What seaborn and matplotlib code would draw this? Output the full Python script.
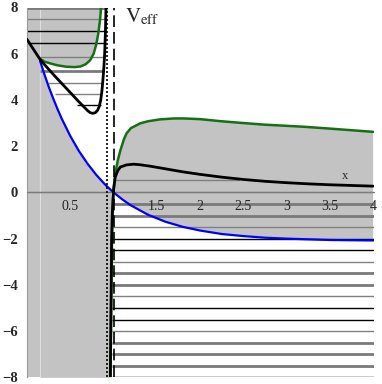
import numpy as np
import pandas as pd
import matplotlib
matplotlib.use("Agg")
import matplotlib.pyplot as plt
import seaborn as sns

# ---------------- data ----------------
blue_x = [0.15, 0.2, 0.25, 0.3, 0.35, 0.4, 0.5, 0.6, 0.7, 0.8, 0.9, 0.95, 0.97, 1.0,
          1.1, 1.2, 1.4, 1.6, 1.8, 2.0, 2.25, 2.5, 2.75, 3.0, 3.5, 4.0]
blue_y = [5.70, 5.12, 4.58, 4.09, 3.63, 3.20, 2.44, 1.79, 1.24, 0.76, 0.35, 0.17, 0.10, 0.00,
          -0.30, -0.56, -0.97, -1.27, -1.49, -1.65, -1.80, -1.89, -1.96, -2.00, -2.06, -2.08]

black_l_x = [0.0, 0.15, 0.2, 0.25, 0.3, 0.35, 0.4, 0.45, 0.5, 0.55, 0.6, 0.65, 0.7, 0.73,
             0.76, 0.79, 0.815, 0.835, 0.852, 0.866, 0.878, 0.889, 0.898, 0.906, 0.914]
black_l_y = [6.62, 5.76, 5.54, 5.33, 5.12, 4.92, 4.72, 4.52, 4.32, 4.12, 3.92, 3.73, 3.54, 3.45,
             3.42, 3.45, 3.55, 3.72, 4.00, 4.40, 4.90, 5.45, 6.05, 6.90, 8.20]

black_r_x = [0.962, 0.968, 0.973, 0.978, 0.985, 0.993, 1.0, 1.01, 1.02, 1.05, 1.08, 1.15,
             1.23, 1.3, 1.43, 1.6, 1.8, 2.0, 2.25, 2.5, 2.75, 3.0, 3.25, 3.5, 3.75, 4.0]
black_r_y = [-8.2, -6.0, -4.0, -2.0, -1.0, -0.3, 0.10, 0.40, 0.67, 0.95, 1.10, 1.19,
             1.22, 1.20, 1.13, 1.02, 0.89, 0.78, 0.66, 0.56, 0.48, 0.42, 0.37, 0.33, 0.30, 0.27]

green_l_x = [0.15, 0.2, 0.27, 0.35, 0.45, 0.55, 0.62, 0.68, 0.73, 0.77, 0.8, 0.825, 0.845, 0.86]
green_l_y = [5.78, 5.66, 5.58, 5.50, 5.44, 5.42, 5.45, 5.55, 5.72, 6.00, 6.40, 6.90, 7.50, 8.20]

green_r_x = [0.965, 0.97, 0.975, 0.98, 0.988, 0.995, 1.0, 1.02, 1.05, 1.08, 1.12, 1.15, 1.2,
             1.31, 1.4, 1.54, 1.7, 1.81, 2.0, 2.24, 2.5, 2.75, 3.0, 3.2, 3.5, 3.75, 4.0]
green_r_y = [-8.2, -6.0, -4.0, -2.5, -1.0, -0.3, 0.10, 0.80, 1.40, 1.83, 2.30, 2.55, 2.78,
             2.99, 3.08, 3.16, 3.20, 3.20, 3.17, 3.08, 3.00, 2.93, 2.88, 2.84, 2.76, 2.69, 2.62]

level_E = [8.0, 7.5, 6.98, 6.46, 5.84, 5.25, 4.72, 4.25, 3.78, 0.55,
           -0.5, -1.0, -1.5, -2.0, -2.5, -3.0, -3.5, -4.0, -4.5, -5.0,
           -5.5, -6.0, -6.5, -7.0, -7.5, -8.0]
level_x0 = [0.0, 0.0, 0.0, 0.0, 0.15, 0.15, 0.24, 0.32, 0.58, 1.01] + [0.98] * 16
level_x1 = [0.92, 0.915, 0.91, 0.905, 0.90, 0.89, 0.88, 0.865, 0.85, 2.45] + [4.01] * 16
level_kind = ["G", "g", "k", "k", "g", "G", "g", "g", "k", "g",
              "G", "G", "g", "k", "k", "g", "G", "G", "g", "k",
              "k", "g", "G", "G", "G", "k"]

xticks = [0.5, 1.5, 2, 2.5, 3, 3.5, 4]
xtick_labels = ["0.5", "1.5", "2", "2.5", "3", "3.5", "4"]
yticks = [-8, -6, -4, -2, 0, 2, 4, 6, 8]
ytick_labels = ["\u22128", "\u22126", "\u22124", "\u22122", "0", "2", "4", "6", "8"]

# ---------------- plotting ----------------
sns.set_style("white")
plt.rcParams["font.family"] = ["Liberation Serif", "DejaVu Serif"]
plt.rcParams["mathtext.fontset"] = "stix"

fig = plt.figure(figsize=(3.82, 3.84), dpi=100)
ax = fig.add_axes([27 / 382, 6.7 / 384, 347 / 382, 369.8 / 384])
ax.set_xlim(0, 4.01)
ax.set_ylim(-8, 8)
ax.set_axisbelow(False)

GREY = "#c3c3c3"
# shaded regions
ax.axvspan(0, 0.15, color=GREY, lw=0, zorder=1)
ax.fill_between(green_l_x, green_l_y, 8, color=GREY, lw=0, zorder=1)
bx = np.array(blue_x)
by = np.array(blue_y)
m = bx <= 0.97
ax.fill_between(bx[m], -8, by[m], color=GREY, lw=0, zorder=1)
gx = np.array(green_r_x)
gy = np.array(green_r_y)
mg = gx >= 1.0
mb = bx >= 1.0
poly_x = np.concatenate([gx[mg], bx[mb][::-1]])
poly_y = np.concatenate([gy[mg], by[mb][::-1]])
ax.fill(poly_x, poly_y, color=GREY, lw=0, zorder=1)

# faint vertical line at the start of the curves
ax.plot([0.15, 0.15], [0, 5.75], color="#dadada", lw=1, zorder=1.5)

# energy levels
style = {"k": ("black", 1.0), "g": ("#808080", 1.0), "G": ("#7a7a7a", 2.0)}
for E, x0, x1, k in zip(level_E, level_x0, level_x1, level_kind):
    c, w = style[k]
    ax.hlines(E, x0, x1, color=c, lw=w, zorder=2)

# x axis line
ax.axhline(0, color="#7a7a7a", lw=1.0, zorder=2)

# curves
df_blue = pd.DataFrame({"x": blue_x, "y": blue_y})
sns.lineplot(data=df_blue, x="x", y="y", sort=False, color="#0000ff", lw=1.6, ax=ax, zorder=4)
for xs, ys in [(green_l_x, green_l_y), (green_r_x, green_r_y)]:
    sns.lineplot(x=xs, y=ys, sort=False, color="#137113", lw=1.8, ax=ax, zorder=4)
for xs, ys in [(black_l_x, black_l_y), (black_r_x, black_r_y)]:
    sns.lineplot(x=xs, y=ys, sort=False, color="black", lw=2.0, ax=ax, zorder=5)

# asymptote markers
ax.axvline(0.928, color="black", lw=1.2, ls=(0, (1.2, 1.2)), zorder=6)
ax.axvline(1.0, color="black", lw=1.2, ls=(0, (7, 3)), zorder=6)

# axes styling
for s in ["top", "right"]:
    ax.spines[s].set_visible(False)
ax.spines["bottom"].set_position(("data", 0))
ax.spines["bottom"].set_color("#7a7a7a")
ax.spines["left"].set_color("#9a9a9a")
ax.spines["left"].set_linewidth(0.8)
ax.set_xticks(xticks)
ax.set_xticklabels(xtick_labels)
ax.set_yticks(yticks)
ax.set_yticklabels(ytick_labels, fontweight="bold")
ax.tick_params(axis="x", direction="out", length=4, width=0.8, color="#444444",
               labelsize=10, pad=1.5)
ax.tick_params(axis="y", direction="out", length=5, width=0.8, color="#444444",
               labelsize=10.5, pad=1.5)
ax.xaxis.set_zorder(7)
ax.yaxis.set_zorder(7)
ax.set_xlabel("")
ax.set_ylabel("")

ax.text(1.13, 8.05, r"$\mathrm{V}_{\mathrm{eff}}$", fontsize=15, ha="left", va="top", zorder=7)
ax.text(3.68, 0.72, "x", fontsize=9, ha="center", va="center", zorder=7)

fig.savefig("out.png", dpi=100)
